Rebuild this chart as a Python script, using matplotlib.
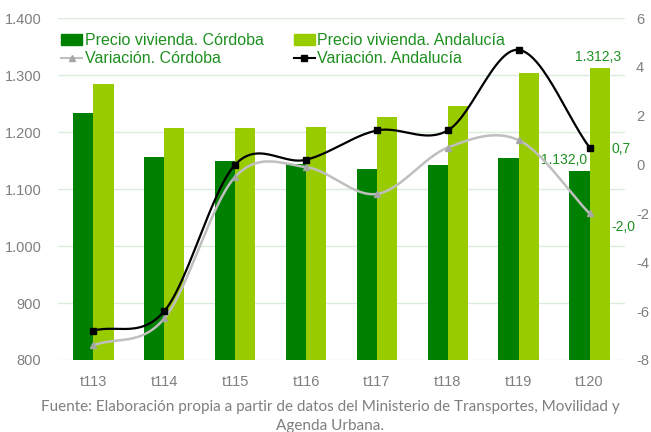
import numpy as np
import matplotlib.pyplot as plt
from matplotlib.lines import Line2D
from matplotlib.patches import Patch

plt.rcParams['font.family'] = ['Liberation Sans', 'DejaVu Sans']

# trimestres
periodos = ["t113", "t114", "t115", "t116", "t117", "t118", "t119", "t120"]
precio_cordoba = [1233, 1156, 1149, 1144, 1135, 1142, 1154, 1132.0]
precio_andalucia = [1284, 1207, 1207, 1209, 1226, 1245, 1303, 1312.3]
var_cordoba = [-7.4, -6.3, -0.5, -0.1, -1.2, 0.7, 1.0, -2.0]
var_andalucia = [-6.8, -6.0, 0.0, 0.2, 1.4, 1.4, 4.7, 0.7]

VERDE = "#008000"
VERDE_CLARO = "#99cc00"
TXT_VERDE = "#1e9020"
GRIS = "#7f7f7f"


# curva suavizada tipo Excel (Catmull-Rom) para dibujar la linea
def suavizar(x, y, n=30):
	x = np.asarray(x, float)
	y = np.asarray(y, float)
	px = np.concatenate([[2*x[0]-x[1]], x, [2*x[-1]-x[-2]]])
	py = np.concatenate([[2*y[0]-y[1]], y, [2*y[-1]-y[-2]]])
	xs, ys = [], []
	t = np.linspace(0, 1, n)
	for i in range(1, len(px)-2):
		for p, out in ((px, xs), (py, ys)):
			p0, p1, p2, p3 = p[i-1], p[i], p[i+1], p[i+2]
			m1 = (p2 - p0) / 2
			m2 = (p3 - p1) / 2
			h00 = 2*t**3 - 3*t**2 + 1
			h10 = t**3 - 2*t**2 + t
			h01 = -2*t**3 + 3*t**2
			h11 = t**3 - t**2
			out.extend(h00*p1 + h10*m1 + h01*p2 + h11*m2)
	return np.array(xs), np.array(ys)


fig = plt.figure(figsize=(6.51, 4.32), dpi=100)
ax = fig.add_axes([0.089, 0.1667, 0.871, 0.7913])
ax2 = ax.twinx()

x = np.arange(len(periodos))
w = 0.285
ax.bar(x - w/2, precio_cordoba, w, color=VERDE, zorder=2)
ax.bar(x + w/2, precio_andalucia, w, color=VERDE_CLARO, zorder=2)

ax.set_ylim(800, 1400)
ax.set_yticks(range(800, 1401, 100))
ax.set_yticklabels(["800", "900", "1.000", "1.100", "1.200", "1.300", "1.400"])
ax.set_xlim(-0.5, len(periodos) - 0.5)
ax.set_xticks(x)
ax.set_xticklabels(periodos)
ax.grid(axis="y", color="#dcecdc", linewidth=1, zorder=0)
ax.set_axisbelow(True)

xs, ys = suavizar(x, var_cordoba)
ax2.plot(xs, ys, color="#bfbfbf", lw=1.8, zorder=3)
ax2.plot(x, var_cordoba, ls="none", marker="^", ms=5, color="#a6a6a6", zorder=4)
xs, ys = suavizar(x, var_andalucia)
ax2.plot(xs, ys, color="black", lw=1.6, zorder=5)
ax2.plot(x, var_andalucia, ls="none", marker="s", ms=5, color="black", zorder=6)
ax2.set_ylim(-8, 6)
ax2.set_yticks(range(-8, 7, 2))
ax2.set_yticklabels([str(v) for v in range(-8, 7, 2)])

for a in (ax, ax2):
	for s in a.spines.values():
		s.set_visible(False)
	a.tick_params(length=0, labelsize=10.5, colors=GRIS)
ax.tick_params(axis="x", pad=11)
ax.tick_params(axis="y", pad=12)
ax2.tick_params(axis="y", pad=8)

fmt = lambda v: f"{v:,.1f}".replace(",", "X").replace(".", ",").replace("X", ".")
n = len(periodos) - 1
ax.annotate(fmt(precio_andalucia[n]), (x[n] + w/2, precio_andalucia[n]), xytext=(-1, 3),
	textcoords="offset points", ha="center", va="bottom", color=TXT_VERDE, fontsize=10)
ax.annotate(fmt(precio_cordoba[n]), (x[n] - w/2, precio_cordoba[n]), xytext=(-11, 3),
	textcoords="offset points", ha="center", va="bottom", color=TXT_VERDE, fontsize=10)
ax2.annotate(fmt(var_andalucia[n]), (x[n], var_andalucia[n]), xytext=(16, -1),
	textcoords="offset points", ha="left", va="center", color=TXT_VERDE, fontsize=10)
ax2.annotate(fmt(var_cordoba[n]), (x[n], var_cordoba[n]), xytext=(16, -10),
	textcoords="offset points", ha="left", va="center", color=TXT_VERDE, fontsize=10)

handles = [
	Patch(color=VERDE, label="Precio vivienda. Córdoba"),
	Line2D([], [], color="#bfbfbf", marker="^", ms=5, mfc="#a6a6a6", mec="#a6a6a6", lw=1.5, label="Variación. Córdoba"),
	Patch(color=VERDE_CLARO, label="Precio vivienda. Andalucía"),
	Line2D([], [], color="black", marker="s", ms=5, lw=1.5, label="Variación. Andalucía"),
]
leg = ax2.legend(handles=handles, ncol=2, loc="upper left", bbox_to_anchor=(-0.005, 0.975),
	frameon=False, fontsize=11.5, handlelength=1.3, handletextpad=0.15, columnspacing=1.9,
	labelspacing=0.2, borderaxespad=0)
for t in leg.get_texts():
	t.set_color(TXT_VERDE)

fig.text(0.507, 0.058, "Fuente: Elaboración propia a partir de datos del Ministerio de Transportes, Movilidad y",
	ha="center", va="center", color=GRIS, fontsize=11, family="Lato")
fig.text(0.507, 0.015, "Agenda Urbana.", ha="center", va="center", color=GRIS, fontsize=11, family="Lato")

fig.savefig("out.png", dpi=100)
